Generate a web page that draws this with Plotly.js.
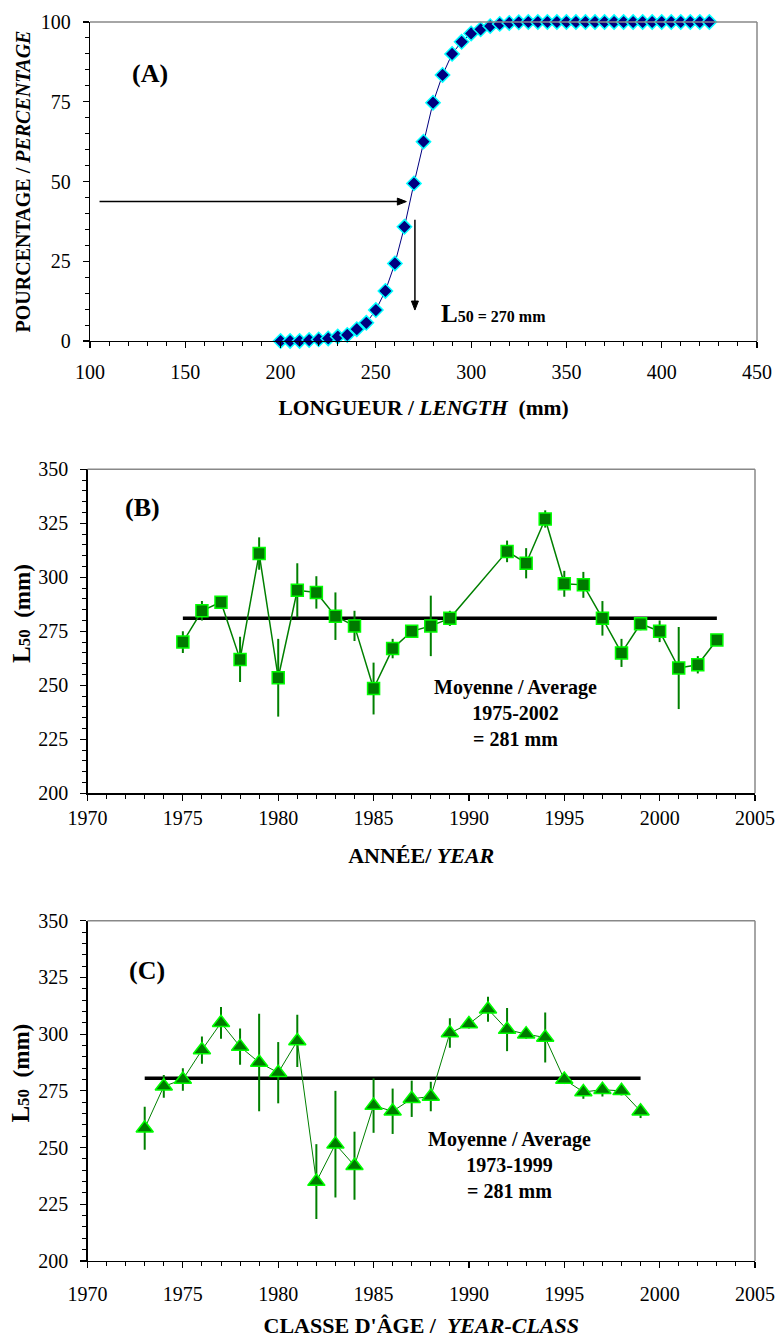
<!DOCTYPE html>
<html>
<head>
<meta charset="utf-8">
<script src="https://cdn.plot.ly/plotly-3.0.1.min.js"></script>
<style>html,body{margin:0;padding:0;background:#fff;}#chart{width:777px;height:1338px;}</style>
</head>
<body>
<div id="chart"></div>
<script>
// ---------- Panel A : maturity ogive ----------
const lengthA = [200,205,210,215,220,225,230,235,240,245,250,255,260,265,270,275,280,285,290,295,300,305,310,315,320,325,330,335,340,345,350,355,360,365,370,375,380,385,390,395,400,405,410,415,420,425];
const pctA = [0,0,0,0.3,0.5,0.8,1.4,1.9,3.7,5.7,9.7,15.7,24.3,35.8,49.4,62.5,74.7,83.4,90,93.8,96.4,97.7,98.7,99.4,99.7,99.9,100,100,100,100,100,100,100,100,100,100,100,100,100,100,100,100,100,100,100,100];
const L50A = 270;

// ---------- Panel B : L50 by year ----------
const yearsB = [1975,1976,1977,1978,1979,1980,1981,1982,1983,1984,1985,1986,1987,1988,1989,1992,1993,1994,1995,1996,1997,1998,1999,2000,2001,2002,2003];
const l50B   = [270,284.5,288.5,262,311,253.5,294,293,282,277.5,248.5,267,275,277.5,281,312,306.5,327,297,296.5,281,265,278.5,275,258,259.5,271];
const errB   = [5,4.5,2,10.5,7.5,18,12.5,7.5,11,7,12,4.5,2,14,3.5,5,7,4,6,6,8,6.5,3,5,19,4,0];
const meanB = 281;

// ---------- Panel C : L50 by year-class ----------
const yearsC = [1973,1974,1975,1976,1977,1978,1979,1980,1981,1982,1983,1984,1985,1986,1987,1988,1989,1990,1991,1992,1993,1994,1995,1996,1997,1998,1999];
const l50C   = [258.5,277,280,293,305,294.5,287.5,283,297,235,251.5,242,268.5,266,271.5,272.5,300.5,304.5,311,302,300,298.5,280,274.5,275.5,275,266];
const errC   = [9.5,5,5,6,7,8,21.5,13.5,11.5,16.5,23.5,15,12,10,8,6.5,6.5,2,5.5,9.5,2,11,2,3,3,2,3];
const meanC = 280.5;

// arrow guides in panel A (data units)
const hArrow = {x0: 105, x1: 266, y: 43.7};
const vArrow = {x: 270.5, y0: 38, y1: 9.7};

const FONT = 'Liberation Serif';
const tickFont = {family: FONT, size: 20, color: '#000'};

const traces = [
  {x: lengthA, y: pctA, xaxis: 'x', yaxis: 'y', type: 'scatter', mode: 'lines+markers',
   line: {color: '#000080', width: 1},
   marker: {symbol: 'diamond', size: 11, color: '#000080', line: {color: '#00FFFF', width: 1.5}},
   showlegend: false, cliponaxis: false},

  {x: [yearsB[0], yearsB[yearsB.length-1]], y: [meanB, meanB], xaxis: 'x2', yaxis: 'y2', type: 'scatter', mode: 'lines',
   line: {color: '#000', width: 3.5}, showlegend: false},
  {x: yearsB, y: l50B, xaxis: 'x2', yaxis: 'y2', type: 'scatter', mode: 'lines+markers',
   error_y: {type: 'data', array: errB, visible: true, color: '#008000', thickness: 2, width: 0},
   line: {color: '#008000', width: 1.5},
   marker: {symbol: 'square', size: 12, color: '#007A00', line: {color: '#00FF00', width: 1.5}},
   showlegend: false},

  {x: [yearsC[0], yearsC[yearsC.length-1]], y: [meanC, meanC], xaxis: 'x3', yaxis: 'y3', type: 'scatter', mode: 'lines',
   line: {color: '#000', width: 3.5}, showlegend: false},
  {x: yearsC, y: l50C, xaxis: 'x3', yaxis: 'y3', type: 'scatter', mode: 'lines+markers',
   error_y: {type: 'data', array: errC, visible: true, color: '#008000', thickness: 2, width: 0},
   line: {color: '#008000', width: 1},
   marker: {symbol: 'triangle-up', size: 15, color: '#007A00', line: {color: '#00FF00', width: 1.5}},
   showlegend: false}
];

function baseAx(domain, range, dtick, minorD, anchor) {
  return {domain: domain, range: range, anchor: anchor, dtick: dtick, tick0: range[0],
    showgrid: false, zeroline: false, showline: true, linecolor: '#000', linewidth: 1.2,
    ticks: 'outside', ticklen: 6, tickwidth: 1.2, tickcolor: '#000',
    minor: {dtick: minorD, ticks: 'outside', ticklen: 4, tickwidth: 1, tickcolor: '#000', showgrid: false},
    tickfont: tickFont, automargin: false, fixedrange: true};
}
function xAx(domain, range, dtick, minorD, anchor, title, tsize, standoffLabel, standoffTitle) {
  return Object.assign(baseAx(domain, range, dtick, minorD, anchor), {
    ticklabelstandoff: standoffLabel,
    title: {text: title, font: {family: FONT, size: tsize, color: '#000'}, standoff: standoffTitle}});
}
function yAx(domain, range, dtick, minorD, anchor, title, tsize, standoffTitle) {
  const a = Object.assign(baseAx(domain, range, dtick, minorD, anchor), {ticklabelstandoff: 8});
  if (title) a.title = {text: title, font: {family: FONT, size: tsize, color: '#000'}, standoff: standoffTitle};
  return a;
}

const H = 1338, W = 777;
const dx = (a, b) => [a / W, b / W];
const dy = (top, bottom) => [1 - bottom / H, 1 - top / H];

const ann = (t, x, y, xref, yref, size, extra) => Object.assign({
  text: t, x: x, y: y, xref: xref, yref: yref, showarrow: false,
  font: {family: FONT, size: size, color: '#000'}}, extra || {});

const borderShapes = [['x', 'y'], ['x2', 'y2'], ['x3', 'y3']].flatMap(([xa, ya]) => [
  {type: 'line', xref: xa + ' domain', yref: ya + ' domain', x0: 0, x1: 1, y0: 1, y1: 1, line: {color: '#888', width: 1.5}},
  {type: 'line', xref: xa + ' domain', yref: ya + ' domain', x0: 1, x1: 1, y0: 0, y1: 1, line: {color: '#888', width: 1.5}}
]);

const arrowShapes = [
  {type: 'line', xref: 'x', yref: 'y', x0: hArrow.x0, x1: hArrow.x1 - 2, y0: hArrow.y, y1: hArrow.y, line: {color: '#000', width: 1.5}},
  {type: 'path', xref: 'x', yref: 'y', xsizemode: 'pixel', ysizemode: 'pixel', xanchor: hArrow.x1, yanchor: hArrow.y,
   path: 'M0,0 L-9,3.5 L-9,-3.5 Z', fillcolor: '#000', line: {color: '#000', width: 1}},
  {type: 'line', xref: 'x', yref: 'y', x0: vArrow.x, x1: vArrow.x, y0: vArrow.y0, y1: vArrow.y1 + 1, line: {color: '#000', width: 1.5}},
  {type: 'path', xref: 'x', yref: 'y', xsizemode: 'pixel', ysizemode: 'pixel', xanchor: vArrow.x, yanchor: vArrow.y1,
   path: 'M0,0 L-3.5,9 L3.5,9 Z', fillcolor: '#000', line: {color: '#000', width: 1}}
];

const l50Title = '<b><span style="font-size:25px">L</span><span style="font-size:17px">50</span>&nbsp;&nbsp;(mm)</b>';

const layout = {
  width: W, height: H, margin: {l: 0, r: 0, t: 0, b: 0},
  paper_bgcolor: '#fff', plot_bgcolor: '#fff', showlegend: false,
  font: {family: FONT, color: '#000'},
  xaxis:  xAx(dx(90, 757), [100, 450], 50, 10, 'y', '<b>LONGUEUR / <i>LENGTH</i>&nbsp;&nbsp;(mm)</b>', 21.5, 7, 17),
  yaxis:  yAx(dy(22, 341), [0, 100], 25, 5, 'x', '<b>POURCENTAGE / <i>PERCENTAGE</i></b>', 20, 4),
  xaxis2: xAx(dx(87.5, 755), [1970, 2005], 5, 1, 'y2', '<b>ANNÉE/ <i>YEAR</i></b>', 22, 0, 20),
  yaxis2: yAx(dy(469.3, 793.3), [200, 350], 25, 5, 'x2', null),
  xaxis3: xAx(dx(87.5, 755), [1970, 2005], 5, 1, 'y3', '<b>CLASSE D\'ÂGE /&nbsp;&nbsp;<i>YEAR-CLASS</i></b>', 22, 9, 25),
  yaxis3: yAx(dy(920.7, 1261), [200, 350], 25, 5, 'x3', null),
  shapes: borderShapes.concat(arrowShapes),
  annotations: [
    ann('<b>(A)</b>', 131.5, 84, 'x', 'y', 26),
    ann('<b><span style="font-size:25px">L</span><span style="font-size:16px">50 = ' + L50A + ' mm</span></b>', 283, 8.5, 'x', 'y', 16, {xanchor: 'left'}),

    ann(l50Title, 21 / W, 283, 'paper', 'y2', 23, {textangle: -90, xanchor: 'center', yanchor: 'middle'}),
    ann('<b>(B)</b>', 1972.9, 332.2, 'x2', 'y2', 26),
    ann('<b>Moyenne / Average<br>1975-2002<br>= ' + meanB + ' mm</b>', 1992.45, 237.2, 'x2', 'y2', 20),

    ann(l50Title, 21 / W, 282.6, 'paper', 'y3', 23, {textangle: -90, xanchor: 'center', yanchor: 'middle'}),
    ann('<b>(C)</b>', 1973.1, 328, 'x3', 'y3', 26),
    ann('<b>Moyenne / Average<br>1973-1999<br>= 281 mm</b>', 1992.15, 242.2, 'x3', 'y3', 20)
  ]
};

Plotly.newPlot('chart', traces, layout, {displayModeBar: false, staticPlot: true});
</script>
</body>
</html>
